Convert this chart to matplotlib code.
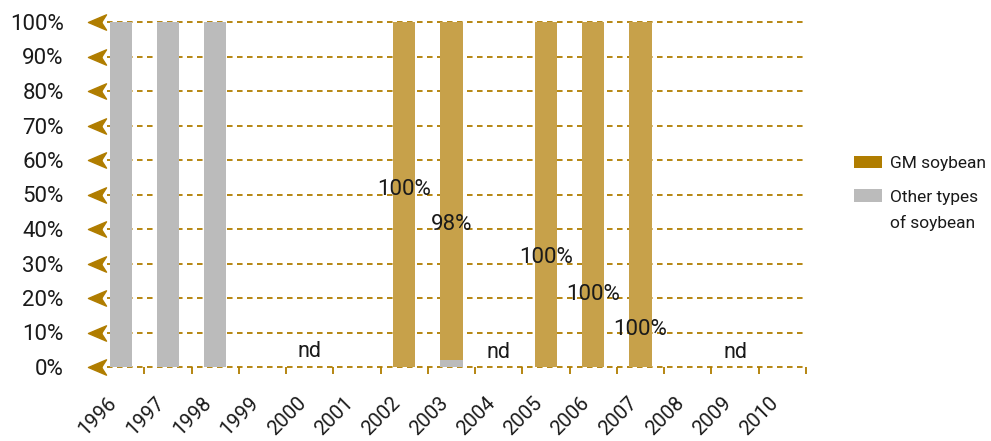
import matplotlib
matplotlib.use("Agg")
import matplotlib.pyplot as plt
import numpy as np
from matplotlib.path import Path
from matplotlib.patches import Patch

plt.rcParams['font.family'] = ['Roboto', 'DejaVu Sans']
plt.rcParams['lines.scale_dashes'] = False

years = ['1996', '1997', '1998', '1999', '2000', '2001', '2002', '2003',
         '2004', '2005', '2006', '2007', '2008', '2009', '2010']
gm_soybean = [0, 0, 0, 0, 0, 0, 100, 98, 0, 100, 100, 100, 0, 0, 0]
other_soybean = [100, 100, 100, 0, 0, 0, 0, 2, 0, 0, 0, 0, 0, 0, 0]
value_labels = ['100%', '98%', '100%', '100%', '100%']
value_label_years = ['2002', '2003', '2005', '2006', '2007']
value_label_y = [51.5, 41.2, 31.6, 21.0, 10.8]
nd_years = ['2000', '2004', '2009']
nd_label_y = [4.6, 4.2, 4.2]
y_ticks = list(range(0, 101, 10))
legend_labels = ['GM soybean', 'Other types']
legend_extra_line = 'of soybean'

GOLD = '#B07D00'
GM_BAR = '#C7A14A'
GRAY = '#BBBBBB'
TXT = '#1a1a1a'

fig = plt.figure(figsize=(9.91, 4.41), dpi=100)
ax = fig.add_axes([97/991, 1-367/441, (806-97)/991, (367-22)/441])

x = np.arange(len(years))
ax.bar(x, other_soybean, width=0.47, color=GRAY, zorder=3)
ax.bar(x, gm_soybean, width=0.47, bottom=other_soybean, color=GM_BAR, zorder=3)

ax.set_xlim(-0.5, len(years) - 0.5)
ax.set_ylim(0, 100)

# dashed gridlines
for yv in y_ticks:
    ax.axhline(yv, color=GOLD, lw=1.3, dashes=(4.0, 3.2), zorder=1, clip_on=False)

# arrow markers on y axis
arrow = Path([(-1, 0), (1, 0.85), (0.45, 0), (1, -0.85), (-1, 0)],
             [Path.MOVETO, Path.LINETO, Path.LINETO, Path.LINETO, Path.CLOSEPOLY])
ax.plot([-0.5] * len(y_ticks), y_ticks, linestyle='none', marker=arrow,
        markersize=13, color=GOLD, clip_on=False, zorder=4)

for s in ax.spines.values():
    s.set_visible(False)

ax.set_yticks(y_ticks)
ax.set_yticklabels([f'{v}%' for v in y_ticks], fontsize=16, color=TXT)
ax.tick_params(axis='y', length=0, pad=24)

ax.set_xticks(x)
ax.set_xticklabels(years, rotation=45, ha='right', fontsize=14.5, color=TXT)
ax.set_xticks(list(x + 0.5), minor=True)
ax.tick_params(axis='x', which='major', length=0, pad=19)
ax.tick_params(axis='x', which='minor', length=5, width=1.3, color=GOLD, direction='out')
ax.set_xlim(-0.5, len(years) - 0.5)

for lab, yr, yv in zip(value_labels, value_label_years, value_label_y):
    ax.text(years.index(yr), yv, lab, ha='center', va='center',
            fontsize=16, color=TXT, zorder=5)
for yr, yv in zip(nd_years, nd_label_y):
    ax.text(years.index(yr), yv, 'nd', ha='center', va='center',
            fontsize=15.5, color=TXT, zorder=5)

handles = [Patch(facecolor=GOLD, label=legend_labels[0]),
           Patch(facecolor=GRAY, label=legend_labels[1])]
fig.legend(handles=handles, loc='upper left', bbox_to_anchor=(854/991, 1-156/441),
           frameon=False, fontsize=12.5, handlelength=1.6, handleheight=0.7,
           handletextpad=0.5, labelspacing=1.05, labelcolor=TXT,
           borderpad=0, borderaxespad=0)
fig.text(890/991, 1-223/441, legend_extra_line, fontsize=12.5, color=TXT,
         ha='left', va='center')

fig.savefig('out.png', dpi=100)
